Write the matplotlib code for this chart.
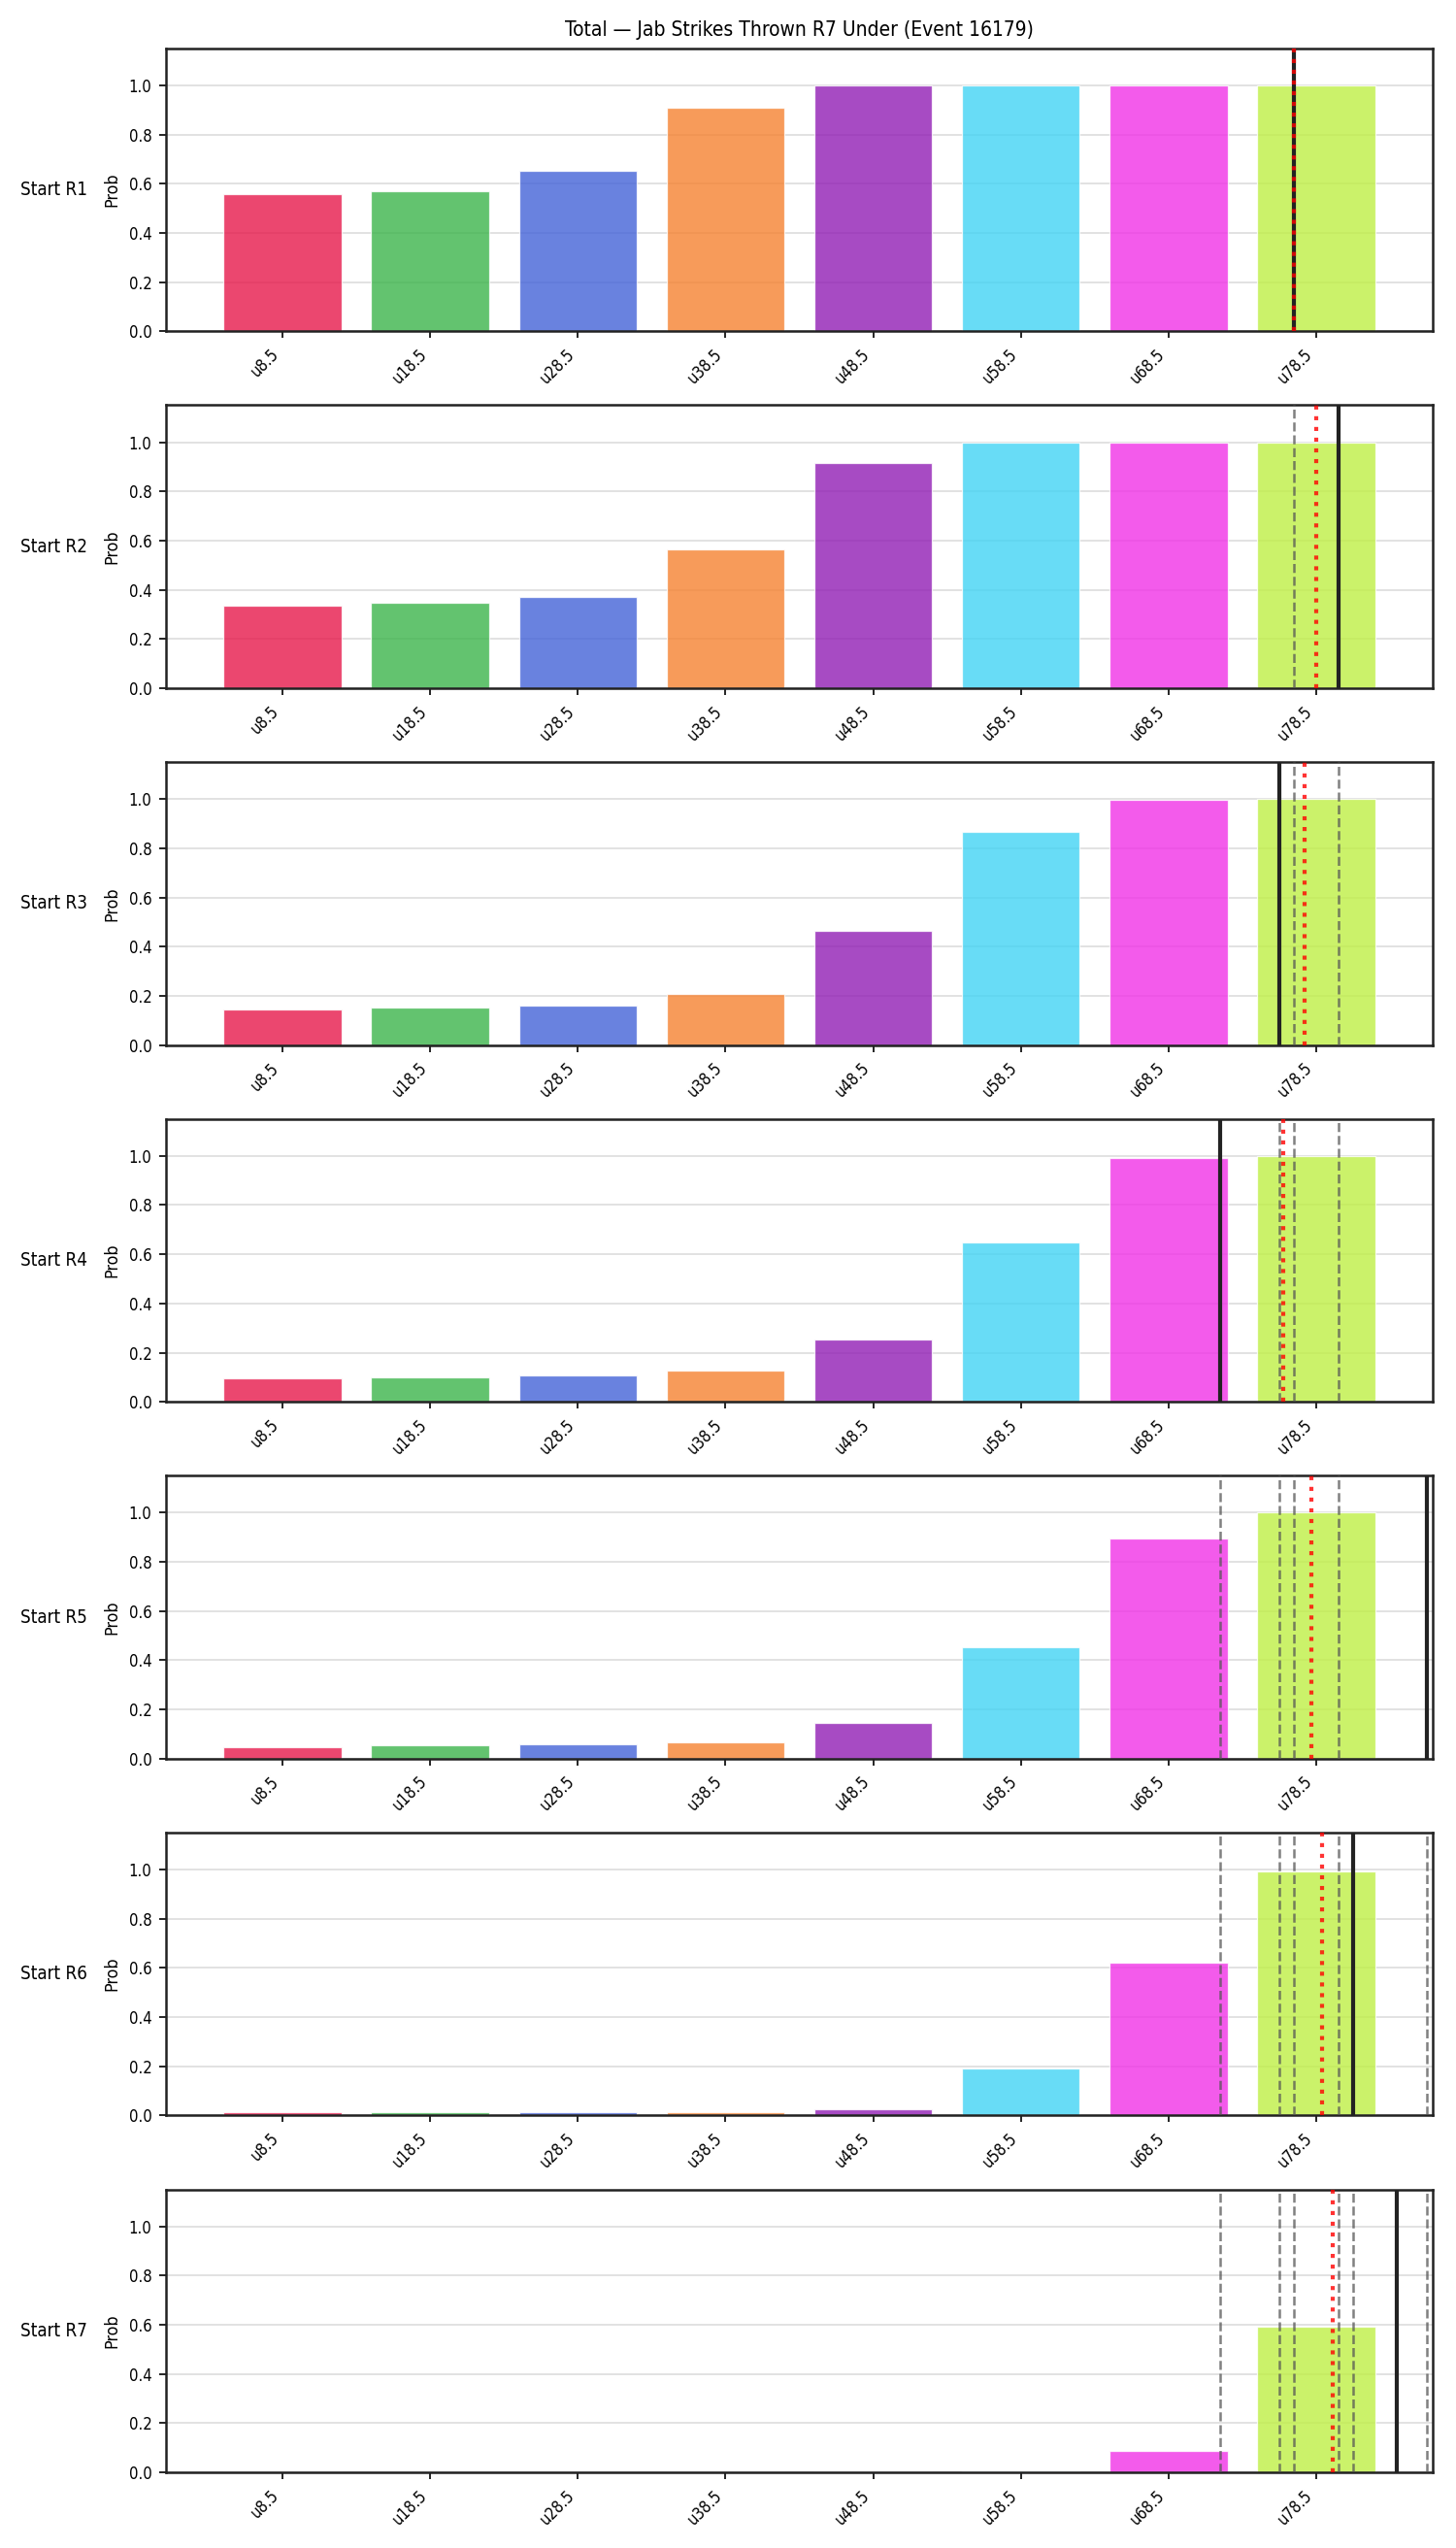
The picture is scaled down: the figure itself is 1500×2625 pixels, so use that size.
import numpy as np
import matplotlib
matplotlib.use("Agg")
import matplotlib.pyplot as plt

title = "Total — Jab Strikes Thrown R7 Under (Event 16179)"
thresholds = [8.5, 18.5, 28.5, 38.5, 48.5, 58.5, 68.5, 78.5]
tick_labels = [f"u{t}" for t in thresholds]
rounds = ["Start R1", "Start R2", "Start R3", "Start R4", "Start R5", "Start R6", "Start R7"]
bar_colors = ["#E6194B", "#3CB44B", "#4363D8", "#F58231", "#911EB4", "#42D4F4", "#F032E6", "#BFEF45"]

prob_r1 = [0.557, 0.569, 0.653, 0.91, 0.998, 1.0, 1.0, 1.0]
prob_r2 = [0.336, 0.349, 0.369, 0.564, 0.917, 0.998, 1.0, 1.0]
prob_r3 = [0.145, 0.153, 0.162, 0.207, 0.463, 0.867, 0.998, 1.0]
prob_r4 = [0.094, 0.101, 0.107, 0.127, 0.252, 0.648, 0.99, 1.0]
prob_r5 = [0.047, 0.054, 0.059, 0.066, 0.145, 0.453, 0.896, 1.0]
prob_r6 = [0.012, 0.012, 0.013, 0.014, 0.026, 0.19, 0.62, 0.99]
prob_r7 = [0.0, 0.0, 0.0, 0.0, 0.002, 0.005, 0.085, 0.592]
probs = [prob_r1, prob_r2, prob_r3, prob_r4, prob_r5, prob_r6, prob_r7]

# actual totals at the start of each round (black solid), projection (red dotted)
start_totals = [77.0, 80.0, 76.0, 72.0, 86.0, 81.0, 84.0]
projections = [77.0, 78.5, 77.7, 76.3, 78.2, 78.9, 79.6]

plt.rcParams['font.family'] = ['DejaVu Sans']
plt.rcParams['font.stretch'] = 'condensed'

fig, axes = plt.subplots(7, 1, figsize=(10, 17.5), dpi=150)
fig.subplots_adjust(left=0.114, right=0.984, top=0.981, bottom=0.0297, hspace=0.261)

xpos = np.arange(len(thresholds))

def to_pos(v):
    return (v - thresholds[0]) / (thresholds[1] - thresholds[0]) * (xpos[1] - xpos[0]) + xpos[0]

for i, ax in enumerate(axes):
    ax.bar(xpos, probs[i], width=0.8, color=bar_colors, alpha=0.8,
           edgecolor="white", linewidth=0.6, zorder=2)
    ax.set_ylim(0, 1.15)
    ax.set_xlim(-0.79, 7.79)
    ax.set_xticks(xpos)
    ax.set_xticklabels(tick_labels, rotation=45, ha="right", fontsize=8)
    ax.tick_params(axis="y", labelsize=8)
    ax.set_yticks([0, 0.2, 0.4, 0.6, 0.8, 1.0])
    ax.grid(axis="y", color="#dddddd", linewidth=0.8, zorder=0)
    ax.set_axisbelow(True)
    ax.set_ylabel("Prob", fontsize=8.5)
    for s in ax.spines.values():
        s.set_color("#222222")
        s.set_linewidth(1.2)
    ax.text(-0.062, 0.5, rounds[i], transform=ax.transAxes, ha="right", va="center", fontsize=9)
    for j in range(i):
        ax.axvline(to_pos(start_totals[j]), color="#555555", linestyle="--", linewidth=1.2, alpha=0.75, zorder=3)
    ax.axvline(to_pos(start_totals[i]), color="#222222", linestyle="-", linewidth=2.0, zorder=4)
    ax.axvline(to_pos(projections[i]), color="red", linestyle=":", linewidth=2.0, alpha=0.8, zorder=5)

axes[0].set_title(title, fontsize=10)

fig.savefig("out.png", dpi=150)
